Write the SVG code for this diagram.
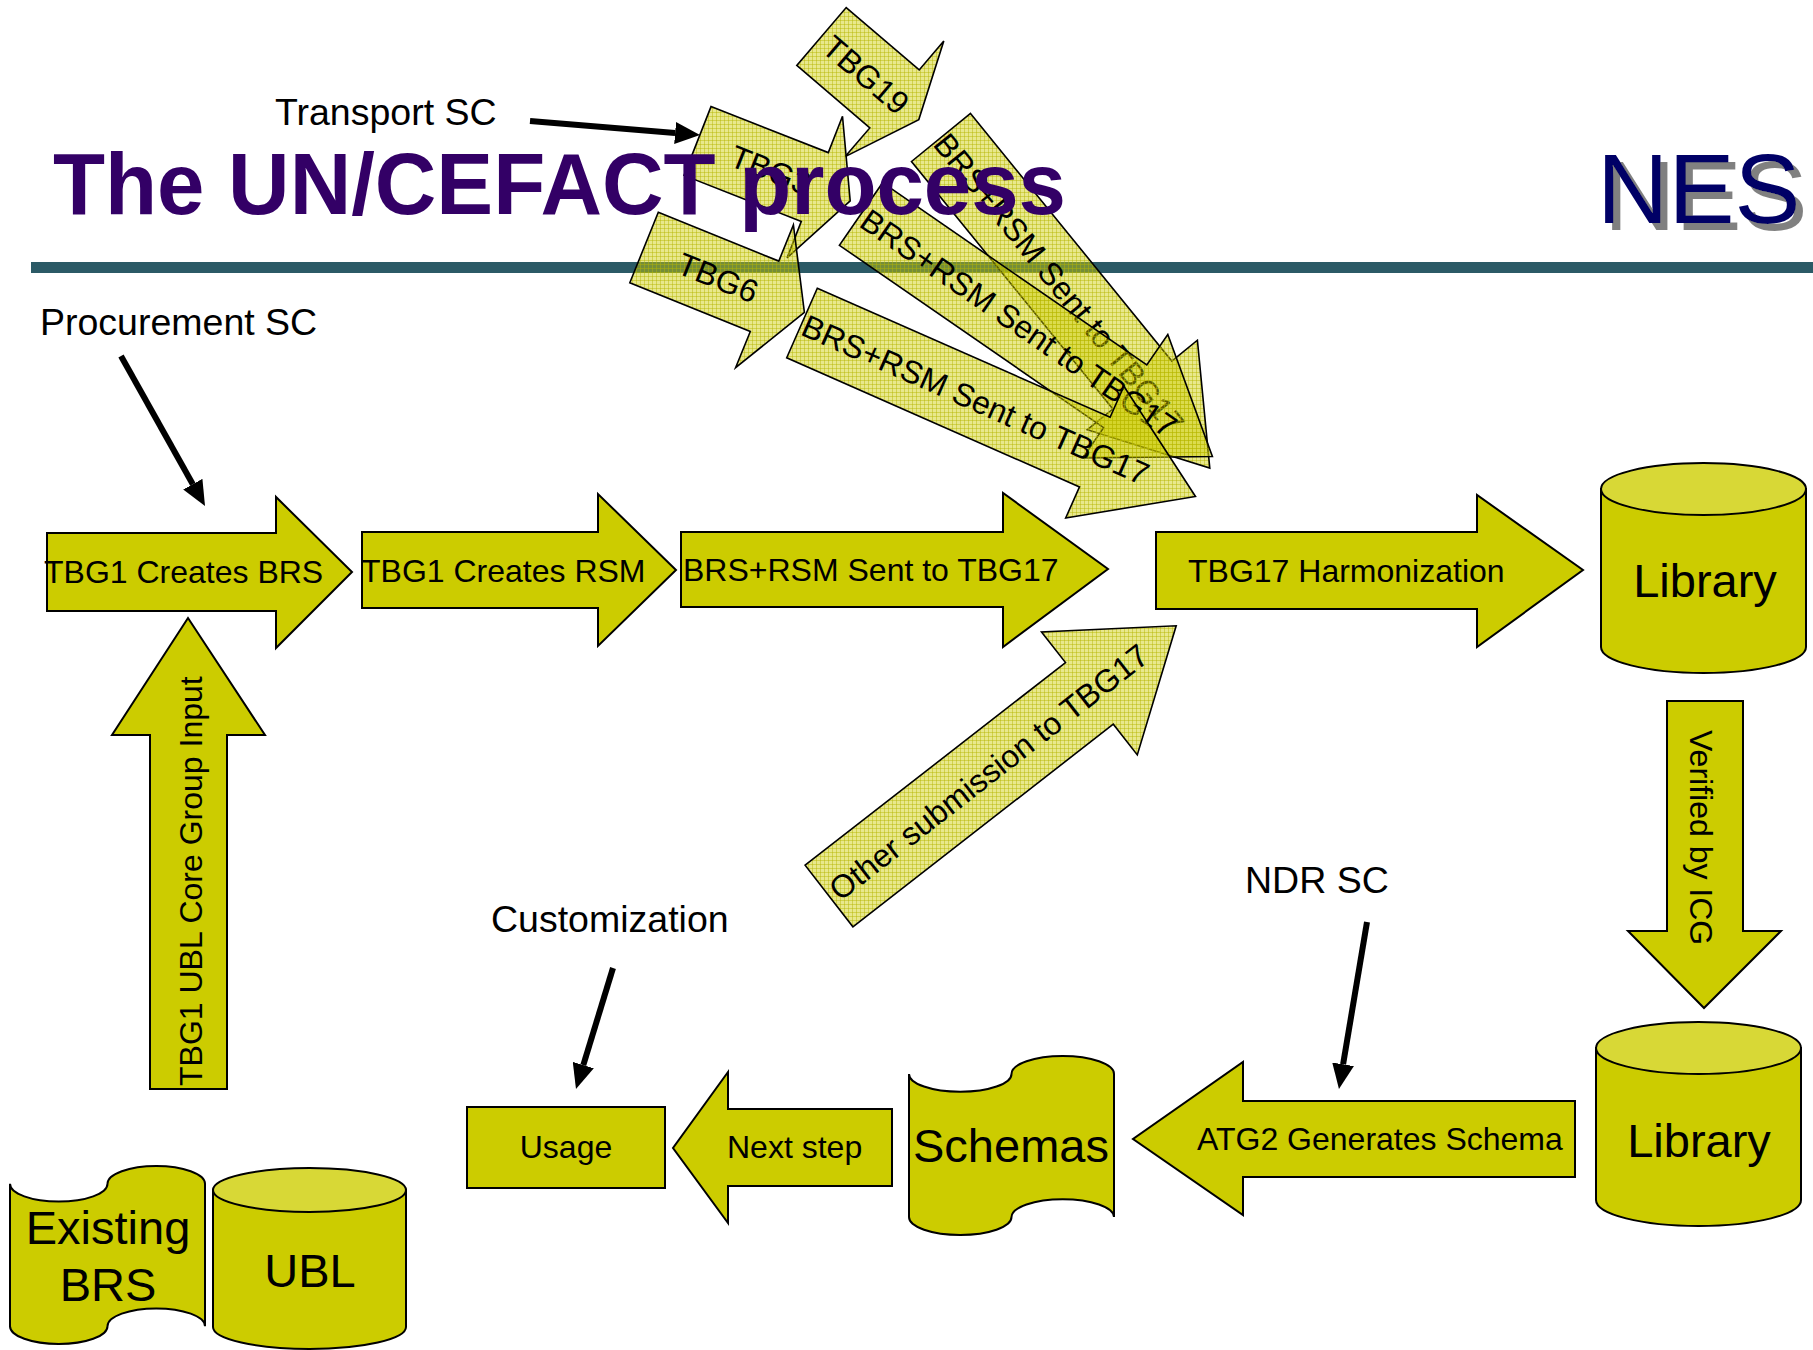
<svg xmlns="http://www.w3.org/2000/svg" width="1813" height="1350" viewBox="0 0 1813 1350">
<defs>
<style>
text{font-family:"Liberation Sans",Arial,sans-serif;fill:#000}
.lbl{font-size:37.5px}
.t32{font-size:32px}
.t47{font-size:47px}
.mid{text-anchor:middle}
.blk{fill:#cccc00;stroke:#000;stroke-width:2}
.hatch{fill:url(#grid);stroke:#000;stroke-width:1.6}
.cyltop{fill:#d8d836;stroke:#000;stroke-width:2}
.conn{stroke:#000;stroke-width:6;fill:none;marker-end:url(#ah)}
</style>
<pattern id="grid" width="4" height="4" patternUnits="userSpaceOnUse">
<rect width="4" height="4" fill="#cccc00" fill-opacity="0.45"/>
<path d="M0,0.5H4M0.5,0V4" stroke="#b5b500" stroke-opacity="0.45" stroke-width="1"/>
</pattern>
<filter id="shadow" x="-5%" y="-5%" width="115%" height="125%">
<feOffset in="SourceAlpha" dx="7" dy="7" result="off"/>
<feFlood flood-color="#808080"/>
<feComposite in2="off" operator="in" result="sh"/>
<feMerge><feMergeNode in="sh"/><feMergeNode in="SourceGraphic"/></feMerge>
</filter>
<marker id="ah" markerUnits="userSpaceOnUse" markerWidth="25" markerHeight="22" refX="0" refY="11" orient="auto" viewBox="0 0 25 22">
<path d="M0,0 L25,11 L0,22 z" fill="#000"/>
</marker>
</defs>
<rect width="1813" height="1350" fill="#fff"/>
<rect id="rule" x="31" y="262" width="1782" height="11" fill="#2b5a66"/>

<!-- diagonal hatched arrows -->
<g id="tbg19">
<polygon class="hatch" points="846.2,7.6 919.2,69.9 943.8,41 918.8,119.6 845.2,156.6 869.8,127.9 796.8,65.4"/>
<text class="t32" transform="translate(821.5,36.5) rotate(40.5)" x="8" y="11.5">TBG19</text>
</g>
<g id="tbg3">
<polygon class="hatch" points="711,106.6 828.3,152.6 842.5,116.2 850.2,200.9 787.1,257.8 801.3,221.4 684,175.4"/>
<text class="t32" transform="translate(697.5,141) rotate(21.4)" x="37" y="11.5">TBG3</text>
</g>
<g id="tbg6">
<polygon class="hatch" points="658.3,212.3 778.8,261.1 793.4,224.9 804.4,312.4 735.6,367.7 750.3,331.5 629.8,282.7"/>
<text class="t32" transform="translate(644,247.5) rotate(22)" x="38" y="11.5">TBG6</text>
</g>
<g id="sent-upper">
<polygon class="hatch" points="970.5,113.5 1171.8,361 1197.4,340.2 1209.8,468.1 1087.2,429.8 1112.8,409 911.5,161.5"/>
<text class="t32" transform="translate(941,137.5) rotate(50.9)" x="0" y="11.5">BRS+RSM Sent to TBG17</text>
</g>
<g id="sent-middle">
<polygon class="hatch" points="882.6,182.7 1146.8,365 1167.8,334.6 1212.4,456.5 1082.6,458 1103.6,427.6 839.4,245.3"/>
<text class="t32" transform="translate(861,214) rotate(34.6)" x="4" y="11.5">BRS+RSM Sent to TBG17</text>
</g>
<g id="sent-lower">
<polygon class="hatch" points="817.3,288.2 1110.1,417.3 1123.9,386.2 1195.5,496.5 1065.7,518 1079.5,486.9 786.7,357.8"/>
<text class="t32" transform="translate(802,323) rotate(23.8)" x="2" y="11.5">BRS+RSM Sent to TBG17</text>
</g>
<g id="other-submission">
<polygon class="hatch" points="805.1,865.2 1065.5,662.6 1041.5,631.9 1176.2,625.8 1137.3,754.9 1113.3,724.2 852.9,926.8"/>
<text class="t32" transform="translate(829,896) rotate(-37.9)" x="5" y="11.5">Other submission to TBG17</text>
</g>

<!-- title -->
<g id="title">
<text x="53" y="214" font-size="87" font-weight="bold" style="fill:#330066" textLength="1013" lengthAdjust="spacingAndGlyphs">The UN/CEFACT process</text>
<text x="1597" y="223" font-size="99" style="fill:#000066" filter="url(#shadow)">NES</text>
</g>

<!-- labels -->
<g id="labels">
<text class="lbl" x="275" y="125">Transport SC</text>
<text class="lbl" x="40" y="335">Procurement SC</text>
<text class="lbl" x="491" y="932">Customization</text>
<text class="lbl" x="1245" y="893">NDR SC</text>
</g>

<!-- main flow -->
<g id="tbg1-brs">
<polygon class="blk" points="47,533 276,533 276,497 352,572 276,648 276,611 47,611"/>
<text class="t32" x="44" y="583">TBG1 Creates BRS</text>
</g>
<g id="tbg1-rsm">
<polygon class="blk" points="362,532 598,532 598,494 676,570 598,646 598,608 362,608"/>
<text class="t32" x="361" y="582">TBG1 Creates RSM</text>
</g>
<g id="brs-rsm-sent">
<polygon class="blk" points="681,532 1003,532 1003,493 1108,569 1003,647 1003,607 681,607"/>
<text class="t32" x="683" y="581">BRS+RSM Sent to TBG17</text>
</g>
<g id="harmonization">
<polygon class="blk" points="1156,532 1477,532 1477,495 1583,570 1477,647 1477,609 1156,609"/>
<text class="t32" x="1188" y="582">TBG17 Harmonization</text>
</g>
<g id="library-top">
<path class="blk" d="M1601,489 L1601,647 A102.5,26 0 0 0 1806,647 L1806,489 Z"/>
<ellipse class="cyltop" cx="1703.5" cy="489" rx="102.5" ry="26"/>
<text class="t47 mid" x="1705" y="597">Library</text>
</g>
<g id="verified-icg">
<polygon class="blk" points="1667,701 1743,701 1743,931 1781,931 1704,1008 1628,931 1667,931"/>
<text class="t32" transform="translate(1690,730) rotate(90)">Verified by ICG</text>
</g>
<g id="library-bottom">
<path class="blk" d="M1596,1048 L1596,1200 A102.5,26 0 0 0 1801,1200 L1801,1048 Z"/>
<ellipse class="cyltop" cx="1698.5" cy="1048" rx="102.5" ry="26"/>
<text class="t47 mid" x="1699" y="1157">Library</text>
</g>
<g id="atg2">
<polygon class="blk" points="1575,1101 1575,1177 1243,1177 1243,1215 1133,1139 1243,1062 1243,1101"/>
<text class="t32" x="1197" y="1150">ATG2 Generates Schema</text>
</g>
<g id="schemas">
<path class="blk" d="M909,1073.9 A51.25,17.9 0 0 0 1011.5,1073.9 A51.25,17.9 0 0 1 1114,1073.9 L1114,1217.1 A51.25,17.9 0 0 0 1011.5,1217.1 A51.25,17.9 0 0 1 909,1217.1 Z"/>
<text class="t47" x="913" y="1162">Schemas</text>
</g>
<g id="next-step">
<polygon class="blk" points="892,1109 892,1186 728,1186 728,1223 673,1148 728,1072 728,1109"/>
<text class="t32" x="727" y="1158">Next step</text>
</g>
<g id="usage">
<rect class="blk" x="467" y="1107" width="198" height="81"/>
<text class="t32 mid" x="566" y="1158">Usage</text>
</g>
<g id="ubl-input">
<polygon class="blk" points="150,1089 150,735 112,735 188,618 265,735 227,735 227,1089"/>
<text class="t32" transform="translate(202,1086) rotate(-90)">TBG1 UBL Core Group Input</text>
</g>
<g id="existing-brs">
<path class="blk" d="M10,1183.8 A48.75,17.8 0 0 0 107.5,1183.8 A48.75,17.8 0 0 1 205,1183.8 L205,1326.2 A48.75,17.8 0 0 0 107.5,1326.2 A48.75,17.8 0 0 1 10,1326.2 Z"/>
<text class="t47 mid" x="108" y="1244">Existing</text>
<text class="t47 mid" x="108" y="1301">BRS</text>
</g>
<g id="ubl">
<path class="blk" d="M213,1190 L213,1327 A96.5,22 0 0 0 406,1327 L406,1190 Z"/>
<ellipse class="cyltop" cx="309.5" cy="1190" rx="96.5" ry="22"/>
<text class="t47 mid" x="310" y="1287">UBL</text>
</g>

<!-- connectors -->
<g id="connectors">
<line class="conn" x1="530" y1="121" x2="675.1" y2="133"/>
<line class="conn" x1="121" y1="356" x2="192.8" y2="484.2"/>
<line class="conn" x1="613" y1="968" x2="583.3" y2="1065.1"/>
<line class="conn" x1="1367" y1="922" x2="1343.1" y2="1064.3"/>
</g>
</svg>
